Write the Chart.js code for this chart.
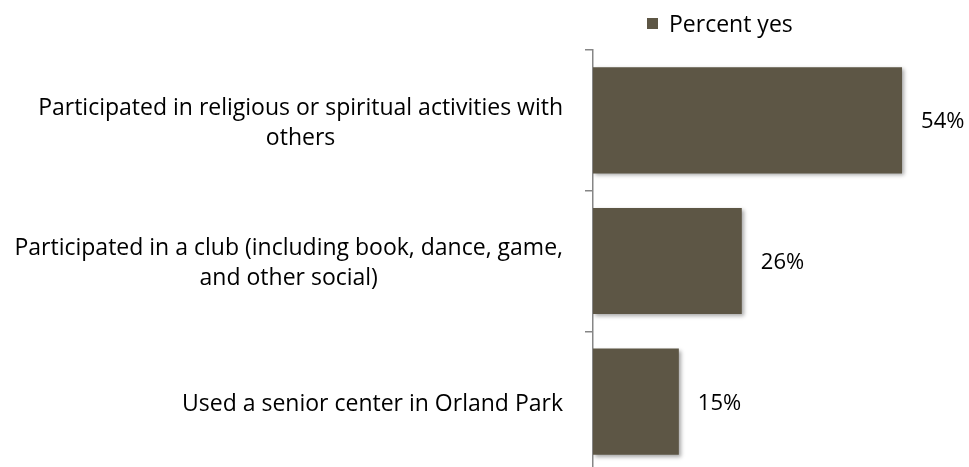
<!DOCTYPE html>
<html>
<head>
<meta charset="utf-8">
<script src="https://cdn.jsdelivr.net/npm/chart.js@4.4.1/dist/chart.umd.min.js"></script>
<style>
  html, body { margin: 0; padding: 0; background: #fff; overflow: hidden; }
  /* the last category runs a few pixels past the bottom of the picture */
  #wrap { width: 969px; height: 472px; }
</style>
</head>
<body>
<div id="wrap"><canvas id="myBarChart"></canvas></div>
<script>
// data
const categories = [
  ['Participated in religious or spiritual activities with', 'others'],
  ['Participated in a club (including book, dance, game,', 'and other social)'],
  ['Used a senior center in Orland Park']
];
const seriesName = 'Percent yes';
const percentYes = [54, 26, 15];

const barColor = '#5D5645';
const axisColor = '#868686';
const fontFamily = '"Open Sans", sans-serif';

// plugin: soft shadow under the bars
const barShadow = {
  id: 'barShadow',
  beforeDatasetDraw(chart) {
    const { ctx } = chart;
    ctx.save();
    ctx.shadowColor = 'rgba(0,0,0,0.35)';
    ctx.shadowBlur = 4;
    ctx.shadowOffsetX = 2;
    ctx.shadowOffsetY = 2;
  },
  afterDatasetDraw(chart) {
    chart.ctx.restore();
  }
};

// text is placed by the middle of its capitals
const capMid = size => 0.357 * size;

// plugin: value labels, category labels and the legend
const textLayer = {
  id: 'textLayer',
  afterDatasetsDraw(chart) {
    const { ctx } = chart;
    const meta = chart.getDatasetMeta(0);
    const yScale = chart.scales.y;

    ctx.save();
    ctx.fillStyle = '#000';
    ctx.textBaseline = 'alphabetic';

    // values right of the bars
    ctx.font = '22px ' + fontFamily;
    ctx.textAlign = 'left';
    meta.data.forEach((bar, i) => {
      ctx.fillText(percentYes[i] + '%', bar.x + 19, bar.y + capMid(22));
    });

    // category labels: block right-aligned, lines centred inside it
    ctx.font = '23px ' + fontFamily;
    ctx.textAlign = 'center';
    const lineH = 30;
    const rightEdge = chart.chartArea.left - 30;
    categories.forEach((lines, i) => {
      const y = yScale.getPixelForTick(i);
      const w = Math.max(...lines.map(l => ctx.measureText(l).width));
      const cx = rightEdge - w / 2;
      const y0 = y + 1 - (lines.length - 1) * lineH / 2 + capMid(23);
      lines.forEach((l, j) => ctx.fillText(l, cx, y0 + j * lineH));
    });

    // legend
    ctx.fillStyle = barColor;
    ctx.fillRect(647, 18, 11, 11);
    ctx.fillStyle = '#000';
    ctx.font = '23px ' + fontFamily;
    ctx.textAlign = 'left';
    ctx.fillText(seriesName, 669, 24 + capMid(23));

    ctx.restore();
  }
};

new Chart(document.getElementById('myBarChart'), {
  type: 'bar',
  data: {
    labels: categories,
    datasets: [
      {
        label: seriesName,
        data: percentYes,
        backgroundColor: barColor,
        barPercentage: 0.755,
        categoryPercentage: 1
      }
    ]
  },
  options: {
    indexAxis: 'y',
    responsive: true,
    maintainAspectRatio: false,
    animation: false,
    layout: { padding: { top: 50, right: 4, bottom: 0, left: 0 } },
    plugins: {
      legend: { display: false },
      tooltip: { enabled: false }
    },
    scales: {
      x: { display: false, min: 0, max: 65 },
      y: {
        afterFit(scale) {
          scale.width = 593;
          scale.paddingTop = 0;
          scale.paddingBottom = 0;
        },
        ticks: { color: 'transparent', font: { size: 1 } },
        grid: {
          offset: true,
          drawOnChartArea: false,
          color: axisColor,
          tickLength: 8,
          lineWidth: 1.5
        },
        border: { display: true, color: axisColor, width: 1.5 }
      }
    }
  },
  plugins: [barShadow, textLayer]
});
</script>
</body>
</html>
